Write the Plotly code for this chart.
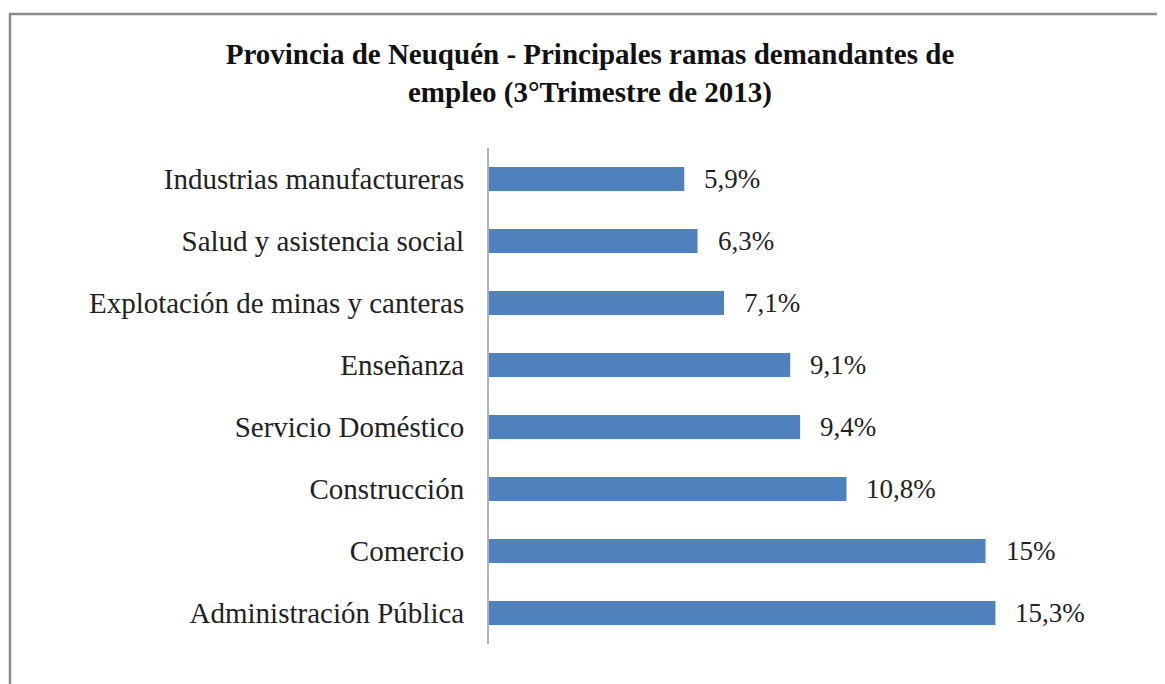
import plotly.graph_objects as go

ramas = [
    "Industrias manufactureras",
    "Salud y asistencia social",
    "Explotación de minas y canteras",
    "Enseñanza",
    "Servicio Doméstico",
    "Construcción",
    "Comercio",
    "Administración Pública",
]
valores = [5.9, 6.3, 7.1, 9.1, 9.4, 10.8, 15.0, 15.3]
etiquetas = ["5,9%", "6,3%", "7,1%", "9,1%", "9,4%", "10,8%", "15%", "15,3%"]

# la página tiene 8px de margen en el body
W, H = 1157, 676
ml, mr, mt, mb = 481, 14, 140, 40
pw, ph = W - ml - mr, H - mt - mb

fig = go.Figure()
fig.add_trace(go.Bar(
    x=valores,
    y=ramas,
    orientation="h",
    marker=dict(color="#4F81BD", line=dict(width=0)),
    width=0.39,
    hoverinfo="skip",
))

# etiquetas de datos a la derecha de cada barra
for v, r, t in zip(valores, ramas, etiquetas):
    fig.add_annotation(x=v, y=r, text=t, showarrow=False, xanchor="left",
                       xshift=18, font=dict(size=27, color="#222222"))

# marco gris (solo visible arriba e izquierda)
bx = (2 - ml) / pw
by = (H - mb - 6) / ph
fig.add_shape(type="path", xref="paper", yref="paper",
              path=f"M {bx} -0.5 L {bx} {by} L 1.2 {by}",
              line=dict(color="#8c8c8c", width=2.5))

fig.update_layout(
    width=W, height=H,
    margin=dict(l=ml, r=mr, t=mt, b=mb),
    paper_bgcolor="white",
    plot_bgcolor="white",
    showlegend=False,
    font=dict(family="Liberation Serif", color="#222222"),
    title=dict(
        text="<b>Provincia de Neuquén - Principales ramas demandantes de<br>empleo (3°Trimestre de 2013)</b>",
        x=582 / W, xanchor="center",
        y=1 - 56 / H, yanchor="top",
        font=dict(size=29, family="Liberation Serif", color="#111111"),
    ),
    xaxis=dict(range=[0, 20], visible=False),
    yaxis=dict(
        range=[7.5, -0.5],
        showline=True, linecolor="#b0b0b0", linewidth=2,
        showgrid=False, zeroline=False,
        ticks="", ticklabelstandoff=17,
        tickfont=dict(size=29, family="Liberation Serif", color="#222222"),
    ),
)

fig.write_html("out.html")
